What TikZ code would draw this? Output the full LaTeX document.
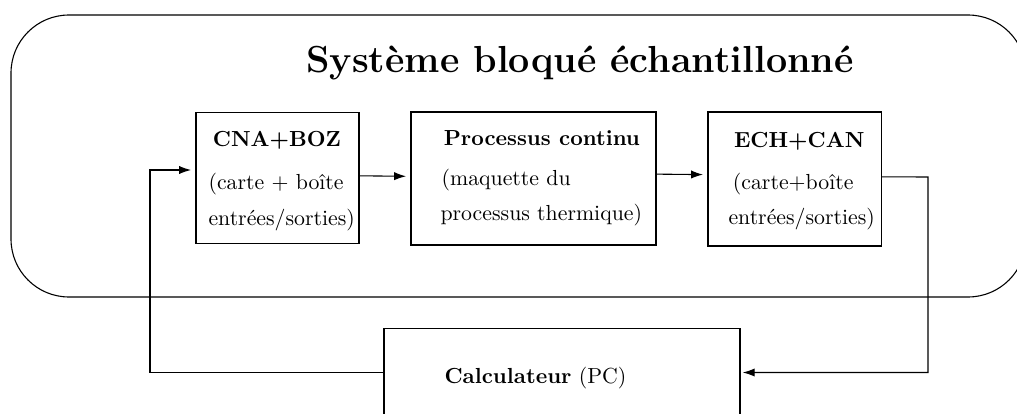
\documentclass[tikz,border=0pt]{standalone}
\usetikzlibrary{calc,arrows.meta}
\tikzset{
  bloc/.style={draw, inner sep=0pt},
  txt/.style={inner sep=0pt, align=left, font=\normalsize},
  fleche/.style={-{Latex[length=5.5pt,width=3.8pt]}, shorten >=2pt}
}
\begin{document}
\begin{tikzpicture}[x=0.4587pt, y=-0.4587pt, line width=0.5pt]
  \useasboundingbox (0,0) rectangle (1017,414);
  \clip (0,0) rectangle (1017,414);
  % cadre du systeme
  \draw[rounded corners=26.6pt] (11,15) rectangle (1026,297);
  \node[anchor=base, font=\LARGE\bfseries] (titre) at (580,72) {Système bloqué échantillonné};
  % blocs
  \node[bloc, minimum width=74.8pt, minimum height=60.5pt] (cna) at (277.5,178) {};
  \node[bloc, minimum width=112.4pt, minimum height=61pt] (proc) at (533.5,178.5) {};
  \node[bloc, minimum width=79.4pt, minimum height=61.5pt] (ech) at (794.5,179) {};
  \node[bloc, minimum width=163.3pt, minimum height=40pt] (calc) at (562,372.5) {};
  % textes
  \node[txt, anchor=north west] (cnatxt) at (208,131)
    {\hspace*{2pt}\textbf{CNA+BOZ}\\[7.5pt](carte + boîte\\[4.5pt]entrées/sorties)};
  \node[txt, anchor=north west] (proctxt) at (440,130)
    {\hspace*{1.5pt}\textbf{Processus continu}\\[6.5pt]\hspace*{0.5pt}(maquette du\\[4pt]processus thermique)};
  \node[txt, anchor=north west] (echtxt) at (728,132)
    {\hspace*{2.5pt}\textbf{ECH+CAN}\\[7pt]\hspace*{2pt}(carte+boîte\\[4pt]entrées/sorties)};
  \node[txt, anchor=base west] (calctxt) at (444,383) {\textbf{Calculateur} (PC)};
  % liaisons
  \coordinate (retg) at (150,170);
  \coordinate (retd) at (928,177);
  \draw[fleche] ([yshift=1pt]cna.east) -- ([yshift=1pt]proc.west);
  \draw[fleche] ([yshift=2pt]proc.east) -- ([yshift=2pt]ech.west);
  \draw[fleche] (calc.west) -| (retg) -- (retg -| cna.west);
  \draw[fleche, shorten >=1pt] ([yshift=1pt]ech.east) -- (retd) |- (calc.east);
\end{tikzpicture}
\end{document}
